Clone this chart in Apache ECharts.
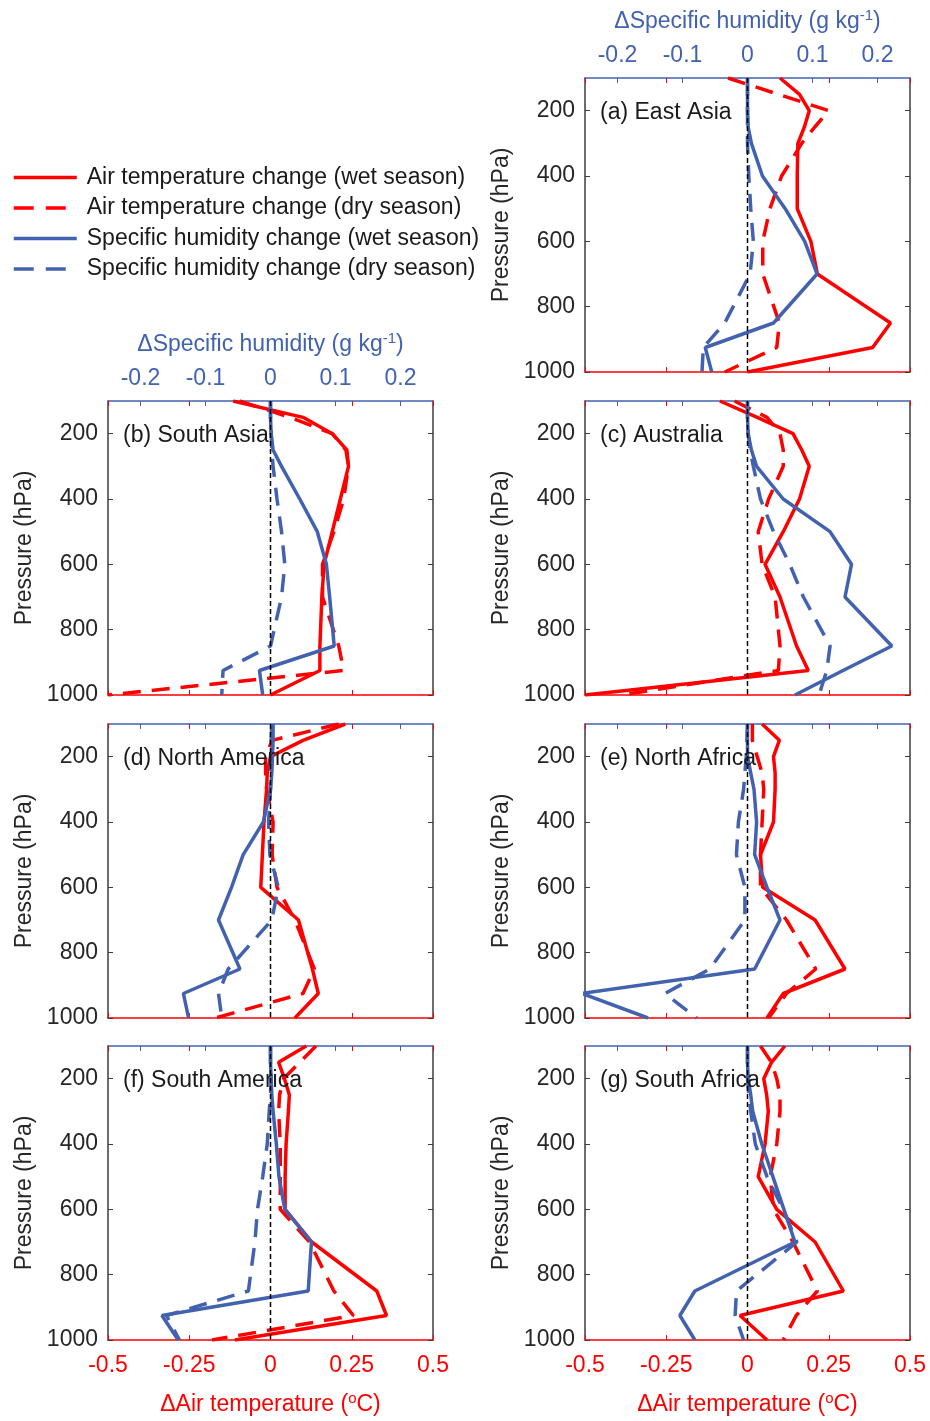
<!DOCTYPE html>
<html>
<head>
<meta charset="utf-8">
<script src="https://cdn.jsdelivr.net/npm/echarts@6/dist/echarts.min.js"></script>
<style>
  html, body { margin: 0; padding: 0; background: #ffffff; }
  #chart { width: 930px; height: 1421px; }
</style>
</head>
<body>
<div id="chart"></div>
<script>
// Pressure levels (hPa) shared by every profile
const pressureLevels = [100, 150, 200, 250, 300, 400, 500, 600, 700, 850, 925, 1000];
const pressureTicks = [200, 400, 600, 800, 1000];
const humidityTicks = [-0.2, -0.1, 0, 0.1, 0.2];

const regionNames = ['(a) East Asia', '(b) South Asia', '(c) Australia', '(d) North America',
  '(e) North Africa', '(f) South America', '(g) South Africa'];

const seriesNames = ['Air temperature change (wet season)', 'Air temperature change (dry season)',
  'Specific humidity change (wet season)', 'Specific humidity change (dry season)'];

// Air temperature change (°C), wet / dry season
const tWetEastAsia = [0.10, 0.16, 0.19, 0.175, 0.155, 0.153, 0.153, 0.195, 0.215, 0.44, 0.385, 0.0];
const tDryEastAsia = [-0.06, 0.095, 0.25, 0.207, 0.167, 0.105, 0.069, 0.047, 0.047, 0.098, 0.09, -0.07];
const tWetSouthAsia = [-0.115, 0.10, 0.19, 0.235, 0.24, 0.215, 0.19, 0.165, 0.158, 0.152, 0.152, 0.0];
const tDrySouthAsia = [-0.095, 0.06, 0.19, 0.232, 0.24, 0.225, 0.195, 0.16, 0.16, 0.21, 0.225, -0.5];
const tWetAustralia = [-0.085, 0.03, 0.14, 0.167, 0.19, 0.16, 0.11, 0.054, 0.10, 0.151, 0.187, -0.5];
const tDryAustralia = [-0.04, 0.06, 0.10, 0.11, 0.11, 0.065, 0.033, 0.045, 0.085, 0.10, 0.095, -0.39];
const tWetNorthAmerica = [0.23, 0.10, 0.0, -0.01, -0.012, -0.02, -0.025, -0.03, 0.086, 0.129, 0.147, 0.075];
const tDryNorthAmerica = [0.21, 0.005, -0.015, -0.015, -0.012, 0.008, 0.005, 0.02, 0.075, 0.135, 0.10, -0.17];
const tWetNorthAfrica = [0.045, 0.098, 0.08, 0.085, 0.085, 0.08, 0.04, 0.047, 0.208, 0.30, 0.11, 0.06];
const tDryNorthAfrica = [0.015, 0.015, 0.03, 0.045, 0.05, 0.045, 0.04, 0.04, 0.12, 0.21, 0.12, 0.065];
const tWetSouthAmerica = [0.11, 0.025, 0.043, 0.058, 0.055, 0.048, 0.045, 0.045, 0.127, 0.327, 0.357, -0.11];
const tDrySouthAmerica = [0.14, 0.09, 0.04, 0.028, 0.025, 0.03, 0.03, 0.03, 0.12, 0.195, 0.255, -0.18];
const tWetSouthAfrica = [0.115, 0.074, 0.05, 0.059, 0.064, 0.054, 0.033, 0.09, 0.208, 0.295, -0.023, 0.06];
const tDrySouthAfrica = [0.04, 0.074, 0.09, 0.10, 0.10, 0.09, 0.07, 0.08, 0.14, 0.215, 0.15, 0.11];

// Specific humidity change (g/kg), wet / dry season
const qWetEastAsia = [0, 0, 0, 0.001, 0.006, 0.023, 0.058, 0.088, 0.107, 0.04, -0.065, -0.055];
const qDryEastAsia = [0, 0, 0, 0, 0, 0.002, 0.005, 0.009, 0.004, -0.035, -0.068, -0.07];
const qWetSouthAsia = [0, 0, 0.001, 0.004, 0.017, 0.045, 0.072, 0.086, 0.091, 0.098, -0.017, -0.012];
const qDrySouthAsia = [0, 0, 0.001, 0.002, 0.004, 0.01, 0.017, 0.022, 0.017, 0.0, -0.073, -0.075];
const qWetAustralia = [0, 0, 0.001, 0.006, 0.014, 0.055, 0.127, 0.16, 0.15, 0.222, 0.147, 0.073];
const qDryAustralia = [0, 0, 0.001, 0.004, 0.009, 0.02, 0.04, 0.065, 0.086, 0.127, 0.122, 0.11];
const qWetNorthAmerica = [0.004, 0.004, 0.003, 0.002, 0.0, -0.011, -0.042, -0.06, -0.08, -0.047, -0.134, -0.126];
const qDryNorthAmerica = [0.002, 0.001, 0, 0, 0, -0.003, -0.001, 0.012, 0.002, -0.065, -0.08, -0.075];
const qWetNorthAfrica = [0, 0, 0, 0.005, 0.01, 0.014, 0.011, 0.03, 0.05, 0.011, -0.255, -0.153];
const qDryNorthAfrica = [0, -0.001, -0.002, -0.004, -0.006, -0.014, -0.017, -0.004, -0.004, -0.058, -0.127, -0.078];
const qWetSouthAmerica = [0, 0, 0.001, 0.002, 0.004, 0.009, 0.013, 0.022, 0.063, 0.058, -0.167, -0.142];
const qDrySouthAmerica = [0, 0, 0.001, 0, -0.002, -0.005, -0.012, -0.02, -0.024, -0.034, -0.16, -0.14];
const qWetSouthAfrica = [0, 0, 0.001, 0.005, 0.008, 0.022, 0.039, 0.056, 0.073, -0.081, -0.104, -0.081];
const qDrySouthAfrica = [0, 0, 0, 0.002, 0.005, 0.012, 0.03, 0.055, 0.076, -0.017, -0.019, -0.006];

// Panel layout: one grid per region
const panels = [
  { name: regionNames[0], tWet: tWetEastAsia, tDry: tDryEastAsia, qWet: qWetEastAsia, qDry: qDryEastAsia, left: 585, top: 78, humidityLabels: true, temperatureLabels: false },
  { name: regionNames[1], tWet: tWetSouthAsia, tDry: tDrySouthAsia, qWet: qWetSouthAsia, qDry: qDrySouthAsia, left: 108, top: 401, humidityLabels: true, temperatureLabels: false },
  { name: regionNames[2], tWet: tWetAustralia, tDry: tDryAustralia, qWet: qWetAustralia, qDry: qDryAustralia, left: 585, top: 401, humidityLabels: false, temperatureLabels: false },
  { name: regionNames[3], tWet: tWetNorthAmerica, tDry: tDryNorthAmerica, qWet: qWetNorthAmerica, qDry: qDryNorthAmerica, left: 108, top: 724, humidityLabels: false, temperatureLabels: false },
  { name: regionNames[4], tWet: tWetNorthAfrica, tDry: tDryNorthAfrica, qWet: qWetNorthAfrica, qDry: qDryNorthAfrica, left: 585, top: 724, humidityLabels: false, temperatureLabels: false },
  { name: regionNames[5], tWet: tWetSouthAmerica, tDry: tDrySouthAmerica, qWet: qWetSouthAmerica, qDry: qDrySouthAmerica, left: 108, top: 1046, humidityLabels: false, temperatureLabels: true },
  { name: regionNames[6], tWet: tWetSouthAfrica, tDry: tDrySouthAfrica, qWet: qWetSouthAfrica, qDry: qDrySouthAfrica, left: 585, top: 1046, humidityLabels: false, temperatureLabels: true }
];

const FONT = '"Liberation Sans", Arial, Helvetica, sans-serif';
const FS = 23;
const RED = '#ff0000';
const BLUE = '#4262b0';
const FRAME = '#3c3c3c';
const TEXT = '#262626';
const PANEL_W = 325;
const PANEL_H = 294;
const LINE_W = 3.5;
const DASH = [18, 11];

const grids = [];
const xAxes = [];
const yAxes = [];
const series = [];
const titles = [];

function profile(values) {
  return pressureLevels.map((p, k) => [values[k], p]);
}

panels.forEach((p, i) => {
  grids.push({ left: p.left, top: p.top, width: PANEL_W, height: PANEL_H });

  // bottom temperature axis
  xAxes.push({
    gridIndex: i, type: 'value', position: 'bottom', min: -0.5, max: 0.5, interval: 0.25,
    axisLine: { show: true, onZero: false, lineStyle: { color: RED, width: 1.5 } },
    axisTick: { show: true, inside: true, length: 5, lineStyle: { color: RED, width: 1 } },
    axisLabel: { show: p.temperatureLabels, color: RED, fontSize: FS, fontFamily: FONT, margin: 14 },
    splitLine: { show: false },
    name: p.temperatureLabels ? '{n|\u0394Air temperature (}{s|o}{n|C)}' : '',
    nameLocation: 'middle', nameGap: 51,
    nameTextStyle: {
      color: RED, fontSize: FS, fontFamily: FONT,
      rich: {
        n: { color: RED, fontSize: FS, fontFamily: FONT, lineHeight: 27 },
        s: { color: RED, fontSize: 15, fontFamily: FONT, verticalAlign: 'top', lineHeight: 15 }
      }
    }
  });
  // mirrored temperature ticks on the top edge
  xAxes.push({
    gridIndex: i, type: 'value', position: 'top', min: -0.5, max: 0.5, interval: 0.25,
    axisLine: { show: false, onZero: false },
    axisTick: { show: true, inside: true, length: 5, lineStyle: { color: RED, width: 1 } },
    axisLabel: { show: false },
    splitLine: { show: false }
  });
  // top humidity axis
  xAxes.push({
    gridIndex: i, type: 'value', position: 'top', min: -0.25, max: 0.25,
    axisLine: { show: true, onZero: false, lineStyle: { color: BLUE, width: 1.5 } },
    axisTick: { show: true, inside: true, length: 5, customValues: humidityTicks, lineStyle: { color: BLUE, width: 1 } },
    axisLabel: { show: p.humidityLabels, customValues: humidityTicks, color: BLUE, fontSize: FS, fontFamily: FONT, margin: 11 },
    splitLine: { show: false },
    name: p.humidityLabels ? '{n|\u0394Specific humidity (g kg}{s|-1}{n|)}' : '',
    nameLocation: 'middle', nameGap: 43,
    nameTextStyle: {
      color: BLUE, fontSize: FS, fontFamily: FONT,
      rich: {
        n: { color: BLUE, fontSize: FS, fontFamily: FONT, lineHeight: 27 },
        s: { color: BLUE, fontSize: 15, fontFamily: FONT, verticalAlign: 'top', lineHeight: 15 }
      }
    }
  });

  // pressure axes (left with labels, right as frame)
  yAxes.push({
    gridIndex: i, type: 'value', position: 'left', inverse: true, min: 100, max: 1000,
    axisLine: { show: true, onZero: false, lineStyle: { color: FRAME, width: 1.5 } },
    axisTick: { show: true, inside: true, length: 5, customValues: pressureTicks, lineStyle: { color: FRAME, width: 1 } },
    axisLabel: {
      show: true, customValues: pressureTicks, color: TEXT, fontSize: FS, fontFamily: FONT, margin: 10,
      formatter: v => String(v)
    },
    splitLine: { show: false },
    name: 'Pressure (hPa)', nameLocation: 'middle', nameGap: 72,
    nameTextStyle: { color: TEXT, fontSize: FS, fontFamily: FONT }
  });
  yAxes.push({
    gridIndex: i, type: 'value', position: 'right', inverse: true, min: 100, max: 1000,
    axisLine: { show: true, onZero: false, lineStyle: { color: FRAME, width: 1.5 } },
    axisTick: { show: true, inside: true, length: 5, customValues: pressureTicks, lineStyle: { color: FRAME, width: 1 } },
    axisLabel: { show: false },
    splitLine: { show: false }
  });

  const xt = i * 3;       // temperature axis
  const xq = i * 3 + 2;   // humidity axis
  const y = i * 2;

  const common = { type: 'line', yAxisIndex: y, symbol: 'none', smooth: false, silent: true, animation: false };
  series.push(Object.assign({}, common, {
    name: seriesNames[0], xAxisIndex: xt, data: profile(p.tWet),
    lineStyle: { color: RED, width: LINE_W, type: 'solid' }, itemStyle: { color: RED }, z: 3
  }));
  series.push(Object.assign({}, common, {
    name: seriesNames[1], xAxisIndex: xt, data: profile(p.tDry),
    lineStyle: { color: RED, width: LINE_W, type: DASH }, itemStyle: { color: RED }, z: 3
  }));
  series.push(Object.assign({}, common, {
    name: seriesNames[2], xAxisIndex: xq, data: profile(p.qWet),
    lineStyle: { color: BLUE, width: LINE_W, type: 'solid' }, itemStyle: { color: BLUE }, z: 4
  }));
  series.push(Object.assign({}, common, {
    name: seriesNames[3], xAxisIndex: xq, data: profile(p.qDry),
    lineStyle: { color: BLUE, width: LINE_W, type: DASH }, itemStyle: { color: BLUE }, z: 4
  }));
  // zero reference line
  series.push(Object.assign({}, common, {
    name: 'zero', xAxisIndex: xt, data: [[0, 100], [0, 1000]],
    lineStyle: { color: '#000000', width: 1.5, type: [5, 3] }, z: 5
  }));

  titles.push({
    text: p.name, left: p.left + 15, top: p.top + 23, padding: 0,
    textStyle: { color: '#1a1a1a', fontSize: FS, fontWeight: 'normal', fontFamily: FONT }
  });
});

const legendMarker = { opacity: 0 };

const chart = echarts.init(document.getElementById('chart'), null, { renderer: 'canvas' });
chart.setOption({
  backgroundColor: '#ffffff',
  animation: false,
  title: titles,
  legend: {
    orient: 'vertical', left: 12, top: 166, padding: 0,
    itemWidth: 63, itemHeight: 23, itemGap: 7.5,
    textStyle: { color: '#1a1a1a', fontSize: FS, fontFamily: FONT, lineHeight: 23, padding: [0, 0, 0, 5] },
    data: [
      { name: seriesNames[0], itemStyle: legendMarker, lineStyle: { color: RED, width: LINE_W, type: 'solid' } },
      { name: seriesNames[1], itemStyle: legendMarker, lineStyle: { color: RED, width: LINE_W, type: [20, 12] } },
      { name: seriesNames[2], itemStyle: legendMarker, lineStyle: { color: BLUE, width: LINE_W, type: 'solid' } },
      { name: seriesNames[3], itemStyle: legendMarker, lineStyle: { color: BLUE, width: LINE_W, type: [20, 12] } }
    ]
  },
  grid: grids,
  xAxis: xAxes,
  yAxis: yAxes,
  series: series
});
</script>
</body>
</html>
